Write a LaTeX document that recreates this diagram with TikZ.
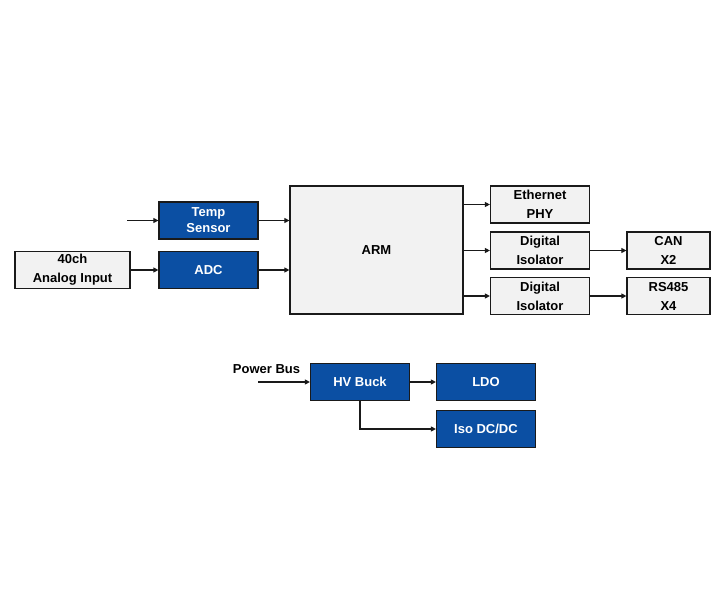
\documentclass[tikz,border=0pt]{standalone}
\usepackage{fontspec}
\setmainfont{Liberation Sans}
\usetikzlibrary{arrows.meta,positioning,calc}
\definecolor{blk}{HTML}{0B4FA3}
\definecolor{lgray}{HTML}{F2F2F2}
\definecolor{edge}{HTML}{1A1A1A}

\begin{document}
\begin{tikzpicture}[x=1pt,y=-1pt,
  box/.style={draw=edge, line width=1.2pt, fill=lgray, minimum height=37pt,
              minimum width=99pt, align=center, inner sep=1pt,
              font=\fontsize{13}{19}\selectfont\bfseries},
  bbox/.style={box, fill=blk, text=white},
  arr/.style={-{Triangle[length=5pt,width=5pt]}, line width=1.1pt, draw=edge}]
\useasboundingbox (0,0) rectangle (720,600);
% ---- inputs ----
\node[bbox] (temp)   at (208.5, 220.5) {Temp\\[-3pt]Sensor};
\node[bbox] (adc)    at (208.5, 270)   {ADC};
\node[box, minimum width=115pt] (ain) at (72.5, 270) {40ch\\Analog Input};
\coordinate (tin) at (127, 220.5);
% ---- processor ----
\node[box, minimum width=173pt, minimum height=128pt] (arm) at (376.5, 250) {ARM};
% ---- outputs ----
\node[box] (eth)  at (540, 204.5) {Ethernet\\PHY};
\node[box] (iso1) at (540, 250.5) {Digital\\Isolator};
\node[box] (iso2) at (540, 296)   {Digital\\Isolator};
\node[box, minimum width=83pt] (can)  at (668.5, 250.5) {CAN\\X2};
\node[box, minimum width=83pt] (rs)   at (668.5, 296)   {RS485\\X4};
% ---- power tree ----
\node[bbox] (buck) at (360, 382) {HV Buck};
\node[bbox] (ldo)  at (486, 382) {LDO};
\node[bbox] (dcdc) at (486, 429) {Iso DC/DC};
\node[font=\fontsize{13}{16}\selectfont\bfseries, inner sep=0pt] (pbus) at (266.5, 369) {Power Bus};
\coordinate (pin) at (258, 382);
% ---- signal arrows ----
\draw[arr] (tin) -- (temp);
\draw[arr] (ain) -- (adc);
\draw[arr] (temp.east) -- (temp.east -| arm.west);
\draw[arr] (adc.east) -- (adc.east -| arm.west);
\draw[arr] (arm.east |- eth) -- (eth);
\draw[arr] (arm.east |- iso1) -- (iso1);
\draw[arr] (arm.east |- iso2) -- (iso2);
\draw[arr] (iso1) -- (can);
\draw[arr] (iso2) -- (rs);
% ---- power arrows ----
\draw[arr] (pin) -- (buck);
\draw[arr] (buck) -- (ldo);
\draw[arr] (buck.south) |- (dcdc.west);
\end{tikzpicture}
\end{document}
